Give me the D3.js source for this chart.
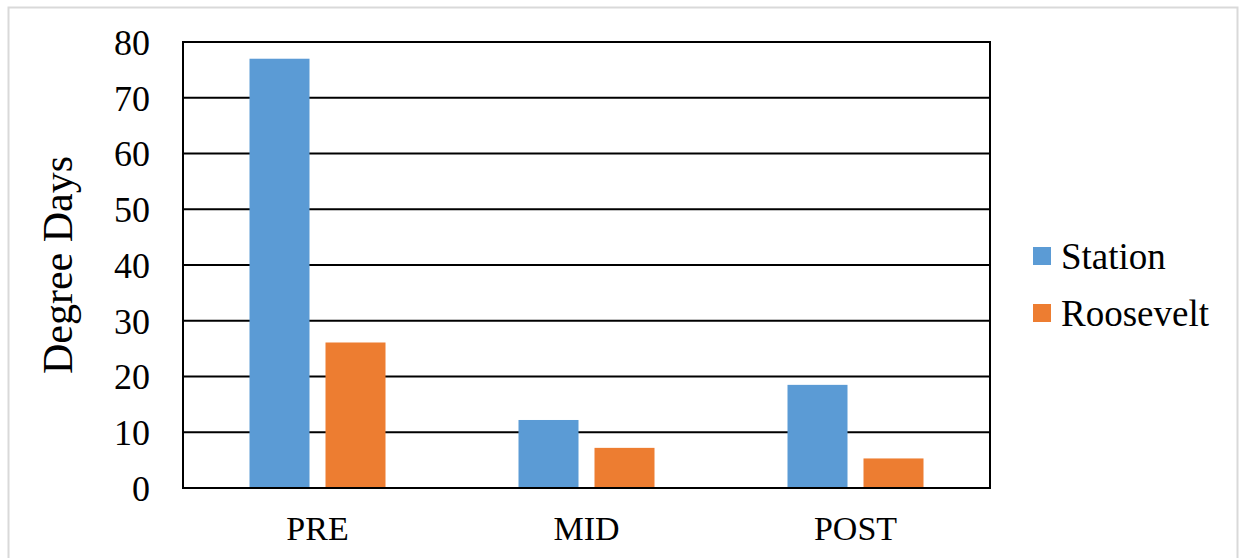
<!DOCTYPE html>
<html>
<head>
<meta charset="utf-8">
<script src="https://cdn.jsdelivr.net/npm/d3@7"></script>
<style>
  html, body { margin: 0; padding: 0; background: #fff; }
  svg { display: block; }
  text { font-family: "Liberation Serif", "Times New Roman", serif; fill: #000; }
</style>
</head>
<body>
<svg id="chart" width="1240" height="558"></svg>
<script>
// Degree days by period for the two sites
const categories = ["PRE", "MID", "POST"];
const seriesNames = ["Station", "Roosevelt"];
const stationValues = [77, 12.2, 18.5];
const rooseveltValues = [26.1, 7.2, 5.3];
const yTicks = [0, 10, 20, 30, 40, 50, 60, 70, 80];
const colors = ["#5B9BD5", "#ED7D31"];

const seriesValues = [stationValues, rooseveltValues];
const rows = categories.map((c, i) => ({
  category: c,
  values: seriesNames.map((s, j) => ({ series: s, value: seriesValues[j][i] }))
}));

const svg = d3.select("#chart");

// outer frame
svg.append("path")
  .attr("d", "M8.5,570 V7.5 H1237.5 V570")
  .attr("fill", "none")
  .attr("stroke", "#d9d9d9")
  .attr("stroke-width", 2);

const plot = { left: 183, right: 990, top: 42, bottom: 488 };

const y = d3.scaleLinear().domain([0, 80]).range([plot.bottom, plot.top]);
const x0 = d3.scaleBand().domain(categories).range([plot.left, plot.right]).padding(0);
const groupWidth = 136;
const x1 = d3.scaleBand().domain(seriesNames).range([0, groupWidth]).paddingInner(0.2105).paddingOuter(0);
const groupOffset = (x0.bandwidth() - groupWidth) / 2;

// horizontal gridlines
svg.append("g")
  .selectAll("line")
  .data(yTicks)
  .join("line")
  .attr("x1", plot.left)
  .attr("x2", plot.right)
  .attr("y1", d => y(d))
  .attr("y2", d => y(d))
  .attr("stroke", "#000")
  .attr("stroke-width", 2);

// bars
const groups = svg.append("g")
  .selectAll("g")
  .data(rows)
  .join("g")
  .attr("transform", d => `translate(${x0(d.category) + groupOffset},0)`);

groups.selectAll("rect")
  .data(d => d.values)
  .join("rect")
  .attr("x", d => x1(d.series))
  .attr("width", x1.bandwidth())
  .attr("y", d => y(d.value))
  .attr("height", d => y(0) - y(d.value))
  .attr("fill", (d, i) => colors[i]);

// plot frame (axes + top/right edges)
svg.append("rect")
  .attr("x", plot.left)
  .attr("y", plot.top)
  .attr("width", plot.right - plot.left)
  .attr("height", plot.bottom - plot.top)
  .attr("fill", "none")
  .attr("stroke", "#000")
  .attr("stroke-width", 2);

// y axis labels
const yAxis = d3.axisLeft(y).tickValues(yTicks).tickSize(0).tickPadding(33);
svg.append("g")
  .attr("transform", `translate(${plot.left},0)`)
  .call(yAxis)
  .call(g => g.select(".domain").remove())
  .call(g => g.selectAll("text")
    .style("font-family", '"Liberation Serif", "Times New Roman", serif')
    .style("font-size", "36px")
    .attr("fill", "#000")
    .attr("dy", "0.34em"));

// x axis labels
const xAxis = d3.axisBottom(x0).tickSize(0).tickPadding(0);
svg.append("g")
  .attr("transform", `translate(0,${plot.bottom})`)
  .call(xAxis)
  .call(g => g.select(".domain").remove())
  .call(g => g.selectAll("text")
    .style("font-family", '"Liberation Serif", "Times New Roman", serif')
    .style("font-size", "34px")
    .attr("fill", "#000")
    .attr("y", 52)
    .attr("dy", 0));

// y axis title
svg.append("text")
  .attr("transform", `translate(72,${(plot.top + plot.bottom) / 2}) rotate(-90)`)
  .attr("text-anchor", "middle")
  .style("font-size", "42px")
  .text("Degree Days");

// legend
const legend = svg.append("g")
  .selectAll("g")
  .data(seriesNames)
  .join("g")
  .attr("transform", (d, i) => `translate(1033,${247 + i * 57})`);

legend.append("rect")
  .attr("width", 18)
  .attr("height", 18)
  .attr("fill", (d, i) => colors[i]);

legend.append("text")
  .attr("x", 28)
  .attr("y", 22)
  .style("font-size", "37px")
  .text(d => d);
</script>
</body>
</html>
